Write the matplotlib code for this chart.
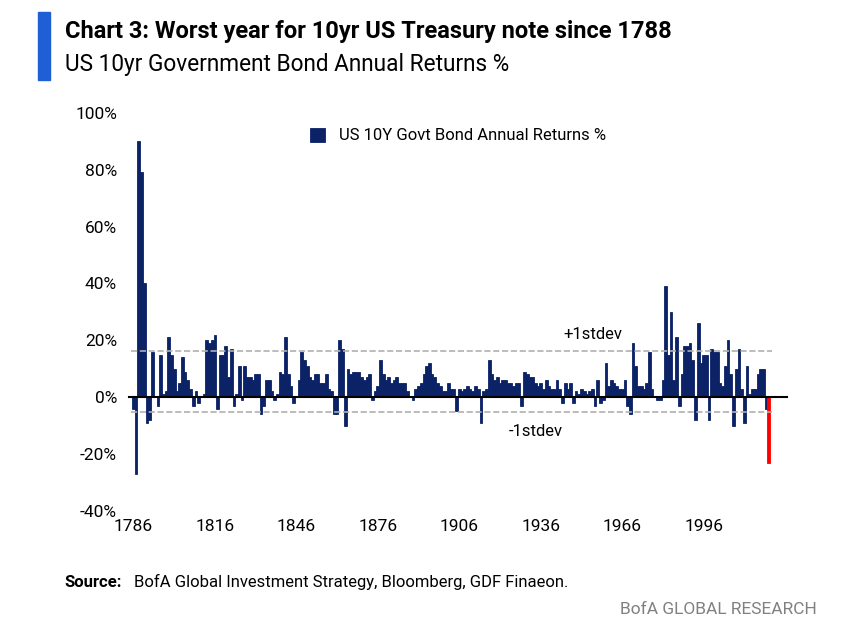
import matplotlib.pyplot as plt
import matplotlib.patches as patches
import numpy as np

plt.rcParams["font.family"] = ["Roboto", "DejaVu Sans"]

# annual returns %, 1786 onwards
returns_1786 = [-4, -27, 90, 79, 40, -9, -8, 16, 0, -3,
                15, 1, 2, 21, 15, 10, 2, 5, 14, 9,
                6, 3, -3, 2, -2, 0, 1, 20, 19, 20,
                22, -4, 15, 15, 18, 7, 17, -3, 1, 11,
                -1, 11, 7, 7, 6, 8, 8, -6, -3, 6,
                6, 2, -1, 1, 9, 8, 21, 8, 4, -2,
                0, 6, 16, 13, 11, 7, 6, 8, 8, 5,
                5, 8, 3, 2, -6, -6, 20, 17, -10, 10]
returns_1866 = [8, 9, 9, 9, 7, 6, 7, 8, -1, 2,
                4, 13, 8, 6, 7, 5, 6, 7, 5, 5,
                5, 2, 0, -1, 3, 4, 5, 8, 11, 12,
                8, 7, 5, 4, 2, 2, 5, 3, 3, -5,
                3, 2, 3, 4, 3, 2, 4, 3, -9, 2,
                3, 13, 8, 6, 7, 5, 6, 6, 5, 5,
                4, 5, 5, -3, 9, 8, 7, 7, 5, 4,
                5, 3, 6, 4, 3, 3, 6, 3, -2, 5]
returns_1946 = [3, 5, -2, 2, 1, 3, 2, 1, 2, 3,
                -3, 6, -2, -1, 12, 4, 6, 5, 4, 3,
                3, 6, -3, -6, 19, 11, 4, 4, 3, 5,
                16, 3, 0, -1, -1, 6, 39, 15, 30, 6,
                21, -3, 8, 18, 18, 19, 13, -8, 26, 12,
                15, 15, -8, 17, 16, 16, 5, 4, 11, 20,
                8, -10, 10, 17, 3, -9, 11, 1, 3, 3,
                8, 10, 10, -4, -23]
returns = returns_1786 + returns_1866 + returns_1946
years = 1786 + np.arange(len(returns))
plus_sd = 16.3
minus_sd = -5.3
tick_years = [1786, 1816, 1846, 1876, 1906, 1936, 1966, 1996]

navy = "#0b2266"
fig = plt.figure(figsize=(8.64, 6.3), dpi=100)
ax = fig.add_axes([0.145, 0.189, 0.77, 0.632])

colors = [navy] * (len(returns) - 1) + ["#ff0000"]
ax.bar(years, returns, width=1.0, color=colors, edgecolor=colors, linewidth=0.6,
       label="US 10Y Govt Bond Annual Returns %")
ax.axhline(0, color="black", lw=1.5, xmin=0.005, xmax=0.995)
ax.plot([years[0] - 1, years[-1] + 1], [plus_sd, plus_sd], ls="--", color="#b0b0b0", lw=1.2)
ax.plot([years[0] - 1, years[-1] + 1], [minus_sd, minus_sd], ls="--", color="#b0b0b0", lw=1.2)
ax.text(1955, plus_sd + 3, "+1stdev", fontsize=12, ha="center", va="bottom")
ax.text(1934, minus_sd - 4, "-1stdev", fontsize=12, ha="center", va="top")

ax.set_ylim(-40, 100)
ax.set_xlim(1783, 2028)
ax.set_yticks(range(-40, 101, 20))
ax.set_yticklabels([f"{v}%" for v in range(-40, 101, 20)])
ax.set_xticks(tick_years)
ax.tick_params(length=0, labelsize=12.5, pad=6)
for s in ax.spines.values():
    s.set_visible(False)
ax.legend(loc="upper center", bbox_to_anchor=(0.5, 1.0), frameon=False, fontsize=12,
          handlelength=0.9, handleheight=0.9)

fig.patches.append(patches.Rectangle((0.044, 0.873), 0.014, 0.108, transform=fig.transFigure,
                                     color="#1f5fd6"))
fig.text(0.075, 0.95, "Chart 3: Worst year for 10yr US Treasury note since 1788",
         fontsize=17, fontweight="bold", va="center")
fig.text(0.075, 0.897, "US 10yr Government Bond Annual Returns %", fontsize=16.3, va="center")
fig.text(0.075, 0.076, "Source:", fontsize=12, fontweight="bold", va="center")
fig.text(0.155, 0.076, "BofA Global Investment Strategy, Bloomberg, GDF Finaeon.",
         fontsize=12, va="center")
fig.text(0.945, 0.032, "BofA GLOBAL RESEARCH", fontsize=12.5, color="#808080",
         ha="right", va="center")

fig.savefig("out.png", dpi=100)
